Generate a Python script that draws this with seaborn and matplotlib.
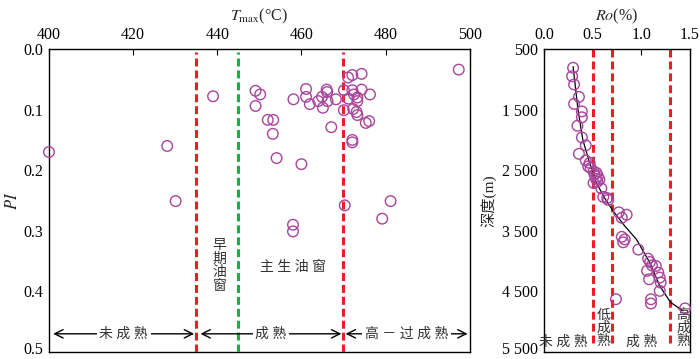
import matplotlib
matplotlib.use('Agg')
import matplotlib.pyplot as plt
import matplotlib.transforms as mtransforms
import seaborn as sns
import pandas as pd

# Left panel: Tmax vs PI
tmax = [497.4, 474.3, 472.1, 471.1, 461.1, 466.0, 466.1, 470.1, 472.1, 474.3, 476.3, 472.5, 473.3,
        439.0, 449.1, 450.2, 449.1, 458.1, 461.1, 462.0, 464.0, 464.9, 465.1, 466.2, 468.2, 471.2,
        473.3, 470.1, 472.3, 473.1, 473.3, 452.0, 453.3, 475.3, 476.1, 467.1, 453.2, 472.1, 472.1,
        428.1, 400.0, 454.1, 460.0, 430.1, 458.0, 458.0, 470.3, 481.2, 479.2]
pi = [0.034, 0.041, 0.043, 0.047, 0.066, 0.067, 0.071, 0.068, 0.068, 0.067, 0.075, 0.075, 0.080,
      0.078, 0.069, 0.075, 0.094, 0.083, 0.079, 0.091, 0.086, 0.079, 0.097, 0.086, 0.083, 0.082,
      0.086, 0.101, 0.099, 0.104, 0.109, 0.117, 0.117, 0.122, 0.119, 0.129, 0.140, 0.150, 0.154,
      0.160, 0.170, 0.180, 0.190, 0.251, 0.290, 0.301, 0.258, 0.251, 0.280]
tmax_red_lines = [435, 470]
tmax_green_line = 445
tmax_zones = [('未成熟', 401, 434.5), ('成熟', 436, 469.5), ('高－过成熟', 470.5, 499.5)]

# Right panel: Ro vs depth
ro = [0.30, 0.29, 0.31, 0.36, 0.31, 0.39, 0.39, 0.345, 0.39, 0.43, 0.36, 0.43, 0.47, 0.455, 0.48,
      0.51, 0.54, 0.555, 0.52, 0.535, 0.51, 0.57, 0.55, 0.59, 0.61, 0.65, 0.66, 0.77, 0.85, 0.80,
      0.80, 0.83, 0.815, 0.97, 1.07, 1.09, 1.11, 1.15, 1.06, 1.175, 1.19, 1.08, 1.20, 1.19, 0.74,
      1.10, 1.10, 1.45]
depth = [810, 950, 1085, 1290, 1405, 1530, 1627, 1767, 1960, 2090, 2230, 2340, 2380, 2436, 2463,
         2518, 2545, 2600, 2573, 2644, 2710, 2655, 2690, 2800, 2940, 2960, 2990, 3195, 3235, 3285,
         3600, 3642, 3690, 3810, 3960, 4015, 4070, 4081, 4160, 4190, 4272, 4300, 4354, 4491, 4629,
         4630, 4700, 4780]
trend_ro = [0.30, 0.35, 0.40, 0.47, 0.53, 0.62, 0.71, 0.83, 0.95, 1.09, 1.19, 1.30, 1.43]
trend_depth = [790, 1500, 2000, 2380, 2680, 2950, 3170, 3420, 3640, 4030, 4410, 4680, 4820]
ro_lines = [0.5, 0.7, 1.3]
depth_ticks = [500, 1500, 2500, 3500, 4500, 5500]
depth_labels = ['500', '1 500', '2 500', '3 500', '4 500', '5 500']

sns.set_theme(style='white')
plt.rcParams['font.family'] = ['Liberation Serif', 'Noto Sans CJK SC']
plt.rcParams['mathtext.fontset'] = 'stix'
plt.rcParams['xtick.direction'] = 'in'
plt.rcParams['ytick.direction'] = 'in'

purple = '#A8449C'
red = '#EE1C25'
green = '#22AA44'
dash = (0, (2.6, 1.3))
txt = '#333333'

fig = plt.figure(figsize=(7, 3.59), dpi=100)
ax1 = fig.add_axes([0.07, 0.0195, 0.601, 0.844])
ax2 = fig.add_axes([0.777, 0.0195, 0.2086, 0.844])

# ---- left panel
df1 = pd.DataFrame({'tmax': tmax, 'pi': pi})
sns.scatterplot(data=df1, x='tmax', y='pi', ax=ax1, marker='o', s=58,
                facecolors='none', edgecolor=purple, linewidth=1.0, clip_on=False, zorder=4)
for x in tmax_red_lines:
    ax1.axvline(x, ymin=0, ymax=0.99, color=red, lw=2.2, linestyle=dash, zorder=3)
ax1.axvline(tmax_green_line, ymin=0, ymax=0.99, color=green, lw=2.2, linestyle=dash, zorder=3)

for label, x0, x1 in tmax_zones:
    ax1.annotate('', xy=(x0, 0.47), xytext=(x1, 0.47),
                 arrowprops=dict(arrowstyle='<->', color='black', lw=1.0,
                                 mutation_scale=15, shrinkA=0, shrinkB=0))
    ax1.text((x0 + x1) / 2, 0.47, ' '.join(label), ha='center', va='center', fontsize=10,
             color=txt, bbox=dict(facecolor='white', edgecolor='none', pad=2), zorder=5)

ax1.text(440.6, 0.358, '早\n期\n油\n窗', ha='center', va='center', fontsize=10,
         color=txt, linespacing=1.05)
ax1.text(458, 0.36, '主 生 油 窗', ha='center', va='center', fontsize=10, color=txt)

ax1.set_xlim(400, 500)
ax1.set_ylim(0.5, 0.0)
ax1.xaxis.tick_top()
ax1.xaxis.set_label_position('top')
ax1.set_xticks([400, 420, 440, 460, 480, 500])
ax1.set_yticks([0.0, 0.1, 0.2, 0.3, 0.4, 0.5])
ax1.set_yticklabels(['0.0', '0.1', '0.2', '0.3', '0.4', '0.5'])
ax1.set_xlabel(r'$T_{\rm max}$(°C)', fontsize=11.5, labelpad=5)
ax1.set_ylabel(r'$PI$', fontsize=12, labelpad=2)

# ---- right panel
df2 = pd.DataFrame({'ro': ro, 'depth': depth})
sns.lineplot(x=trend_ro, y=trend_depth, ax=ax2, sort=False, estimator=None,
             color='black', lw=0.9, zorder=3)
sns.scatterplot(data=df2, x='ro', y='depth', ax=ax2, marker='o', s=58,
                facecolors='none', edgecolor=purple, linewidth=1.0, clip_on=False, zorder=4)
for x in ro_lines:
    ax2.axvline(x, ymin=0.03, ymax=1.0, color=red, lw=2.2, linestyle=dash, zorder=2)

ax2.text(0.2, 5330, '未 成 熟', ha='center', va='center', fontsize=10, color=txt)
ax2.text(0.61, 5110, '低\n成\n熟', ha='center', va='center', fontsize=10, color=txt,
         linespacing=1.0)
ax2.text(1.0, 5330, '成 熟', ha='center', va='center', fontsize=10, color=txt)
ax2.text(1.43, 5110, '高\n成\n熟', ha='center', va='center', fontsize=10, color=txt,
         linespacing=1.0)

ax2.set_xlim(0, 1.5)
ax2.set_ylim(5500, 500)
ax2.xaxis.tick_top()
ax2.xaxis.set_label_position('top')
ax2.set_xticks([0.0, 0.5, 1.0, 1.5])
ax2.set_xticklabels(['0.0', '0.5', '1.0', '1.5'])
ax2.set_yticks(depth_ticks)
ax2.set_yticklabels(depth_labels)
ax2.set_xlabel(r'$Ro$(%)', fontsize=11.5, labelpad=5)
ax2.set_ylabel('深度(m)', fontsize=11, labelpad=4)

for ax in (ax1, ax2):
    ax.tick_params(axis='both', labelsize=11.5, length=4, width=0.8, colors='black',
                   pad=4)
    for s in ax.spines.values():
        s.set_color('black')
        s.set_linewidth(1.0)
    ax.grid(False)
    # lift the bottom tick label a little so it stays inside the figure
    bottom = ax.get_yticklabels()[-1]
    bottom.set_transform(bottom.get_transform() +
                         mtransforms.ScaledTranslation(0, 3 / 72, fig.dpi_scale_trans))

fig.savefig('out.png', dpi=100)
